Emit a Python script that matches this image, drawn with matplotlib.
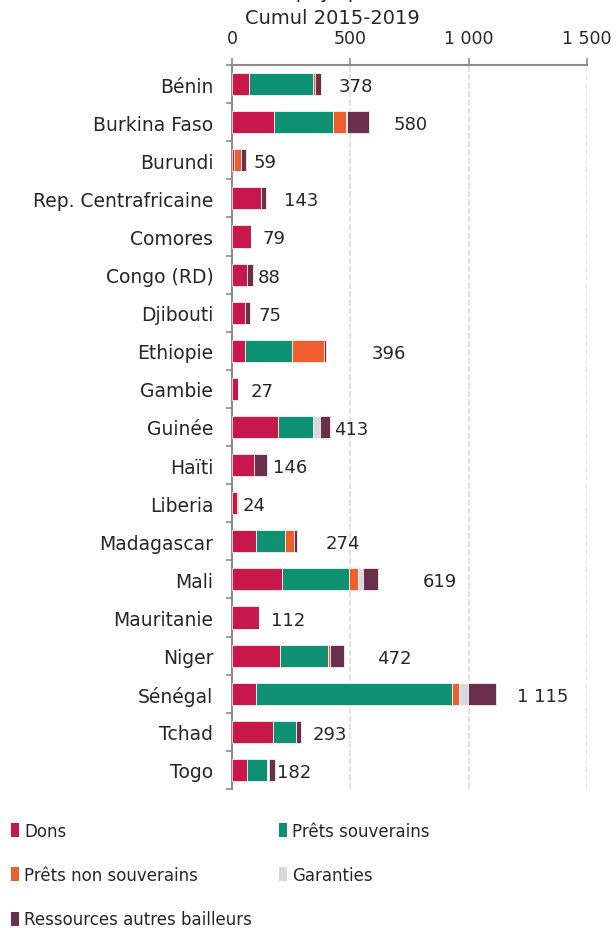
import numpy as np
import matplotlib
matplotlib.use("Agg")
import matplotlib.pyplot as plt
from matplotlib.patches import Patch

# ─────────────────────────────────────────
# DATA  (M EUR, cumul 2015-2019)
# ─────────────────────────────────────────
countries = ["Bénin", "Burkina Faso", "Burundi", "Rep. Centrafricaine", "Comores",
             "Congo (RD)", "Djibouti", "Ethiopie", "Gambie", "Guinée", "Haïti",
             "Liberia", "Madagascar", "Mali", "Mauritanie", "Niger", "Sénégal",
             "Tchad", "Togo"]

dons         = [72, 179, 8, 123, 79, 64, 54, 55, 25, 196, 94, 22, 100, 211, 112, 201, 103, 175, 64]
prets_souv   = [272, 249, 0, 0, 0, 0, 0, 200, 0, 147, 0, 0, 125, 283, 0, 206, 825, 97, 85]
prets_nsouv  = [5, 55, 29, 0, 0, 0, 0, 135, 0, 0, 0, 0, 38, 37, 0, 6, 32, 0, 4]
garanties    = [0, 5, 0, 0, 0, 0, 0, 0, 0, 27, 0, 0, 0, 23, 0, 0, 38, 0, 4]
autres       = [29, 92, 22, 20, 0, 24, 21, 6, 2, 43, 52, 2, 11, 65, 0, 59, 117, 21, 25]

totals = [378, 580, 59, 143, 79, 88, 75, 396, 27, 413, 146, 24, 274, 619, 112, 472, 1115, 293, 182]

series_names = ["Dons", "Prêts souverains", "Prêts non souverains", "Garanties",
                "Ressources autres bailleurs"]
series_colors = ["#C8174A", "#0E9073", "#EE5E2F", "#D9D9D9", "#6B2F4E"]

xticks = [0, 500, 1000, 1500]
xtick_labels = ["0", "500", "1 000", "1 500"]

# label offsets (pixels) - labels were hand-placed in the original
label_pad = [17, 24, 8, 18, 12, 5, 9, 46, 12, 4, 6, 5, 29, 44, 12, 33, 21, 11, 2]


def fmt(v):
    return f"{v:,}".replace(",", " ")


# ─────────────────────────────────────────
# PLOT
# ─────────────────────────────────────────
plt.rcParams["font.family"] = ["DejaVu Sans"]
TXT = "#262626"
AX = "#8C8C8C"

fig = plt.figure(figsize=(6.16, 9.29), dpi=100)
ax = fig.add_axes([232 / 616, 1 - 790 / 929, 355 / 616, 724 / 929])

y = np.arange(len(countries))
series = [dons, prets_souv, prets_nsouv, garanties, autres]
left = np.zeros(len(countries))
handles = []
for vals, name, col in zip(series, series_names, series_colors):
    ax.barh(y, vals, left=left, height=0.58, color=col, edgecolor="white",
            linewidth=0.5, zorder=3)
    left += np.array(vals)
    handles.append(Patch(facecolor=col, edgecolor="none", label=name))

for i, tot in enumerate(totals):
    ax.annotate(fmt(tot), xy=(left[i], y[i]), xytext=(label_pad[i], -2),
                textcoords="offset pixels", va="center", ha="left",
                fontsize=13, color=TXT)

ax.set_xlim(0, 1500)
ax.set_ylim(len(countries) - 0.5, -0.5)

# x axis on top
ax.xaxis.tick_top()
ax.set_xticks(xticks)
ax.set_xticklabels(xtick_labels, fontsize=12.5, color=TXT)
ax.tick_params(axis="x", length=5, width=1.2, color=AX, pad=8)
ax.grid(axis="x", color="#E3E3E3", lw=1.5, ls=(0, (3, 1)), zorder=0)

# y axis: labels at category, ticks at boundaries
ax.set_yticks(y)
ax.set_yticklabels(countries, fontsize=13.5, color=TXT)
ax.set_yticks(np.arange(len(countries) + 1) - 0.5, minor=True)
ax.tick_params(axis="y", which="major", length=0, pad=13.5)
ax.tick_params(axis="y", which="minor", length=4, width=1.2, color=AX)

for s in ["right", "bottom"]:
    ax.spines[s].set_visible(False)
for s in ["top", "left"]:
    ax.spines[s].set_color(AX)
    ax.spines[s].set_linewidth(1.5)

# title (cut at top of the image)
fig.text(332 / 616, 1 + 8 / 929, "dans les pays prioritaires", ha="center",
         va="center", fontsize=14, color=TXT)
fig.text(332 / 616, 1 - 19 / 929, "Cumul 2015-2019", ha="center",
         va="center", fontsize=14, color=TXT)

# legend (row-major order)
order = [0, 2, 4, 1, 3]
fig.legend([handles[k] for k in order], [series_names[k] for k in order],
           loc="upper left", bbox_to_anchor=(4 / 616, 1 - 816 / 929),
           ncol=2, frameon=False, fontsize=12, labelcolor=TXT,
           handlelength=0.5, handleheight=0.9, handletextpad=0.3,
           columnspacing=1.6, labelspacing=1.58, borderaxespad=0)

plt.savefig("out.png", dpi=100)
